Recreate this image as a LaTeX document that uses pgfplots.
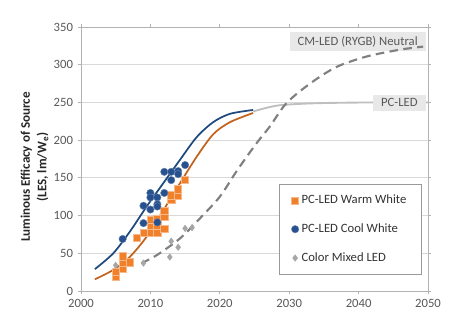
\documentclass[border=0pt]{standalone}
\usepackage{pgfplots}
\pgfplotsset{compat=1.18}
\usepackage{fontspec}
\setmainfont{Carlito}
\definecolor{ww}{HTML}{F0802A}
\definecolor{cw}{HTML}{26508E}
\definecolor{cm}{HTML}{A6A6A6}
\definecolor{wwline}{HTML}{C2621C}
\definecolor{cwline}{HTML}{1F4A80}
\definecolor{txt}{HTML}{595959}
\definecolor{boxfill}{HTML}{E8E8E8}
\begin{document}
\begin{tikzpicture}
\begin{axis}[
  set layers,
  at={(0,0)}, anchor=south west,
  scale only axis, width=260.25pt, height=198pt,
  xmin=2000, xmax=2050, ymin=0, ymax=350,
  xtick={2000,2010,...,2050}, ytick={0,50,...,350},
  /pgf/number format/1000 sep={},
  /pgf/number format/assume math mode=true,
  ymajorgrids, grid style={draw=black!15, line width=0.7pt},
  axis line style={draw=black!30, line width=0.7pt},
  tick align=outside, major tick length=2.5pt,
  tick style={draw=black!30, line width=0.6pt},
  ticklabel style={font=\fontsize{9.5}{11}\selectfont, text=txt},
  ylabel={Luminous Efficacy of Source\\(LES, lm/W\textsubscript{e})},
  ylabel style={align=center, xshift=-6pt, yshift=-3pt, font=\bfseries\fontsize{9.8}{12.5}\selectfont, text=black!85},
  legend style={at={(rel axis cs:0.571,0.405)}, anchor=north west,
    draw=black!40, fill=white, font=\fontsize{9.5}{11}\selectfont, text=black!80,
    row sep=9.5pt, inner xsep=9pt, inner ysep=6pt},
  legend cell align=left,
]
\begin{pgfonlayer}{pre main}
\node[fill=boxfill, text=txt, inner xsep=6pt, inner ysep=3pt, font=\fontsize{9.5}{11}\selectfont, anchor=east] at (axis cs:2049.7,331) {CM-LED (RYGB) Neutral};
\end{pgfonlayer}
% fitted curves
\addplot[forget plot, cwline, line width=1.3pt, smooth] coordinates {
(2002,29) (2004.65,50) (2007.06,79) (2009.46,112) (2011.86,143) (2014.27,174) (2016.67,204) (2019.07,224) (2021.5,235) (2024.8,240)};
\addplot[forget plot, wwline, line width=1.3pt, smooth] coordinates {
(2002,15.5) (2004.65,28) (2007.06,45.5) (2009.46,72) (2011.86,107) (2014.27,143) (2016.67,178) (2019.07,208) (2021.5,224) (2024.8,236)};
\addplot[forget plot, black!25, line width=1.4pt, smooth] coordinates {
(2024.8,238) (2027,243.5) (2029.1,246.7) (2034,249) (2042,250) (2050,250)};
\addplot[forget plot, black!50, line width=1.6pt, dash pattern=on 6.5pt off 4pt, smooth] coordinates {
(2008.7,36.7) (2011,48) (2014.3,70) (2017,95) (2020,125) (2022.5,160) (2025.3,196) (2027.2,218) (2029.6,249) (2033,275) (2036.8,297) (2041.2,311) (2046,320) (2049.3,324)};
\node[fill=boxfill, text=txt, inner xsep=6pt, inner ysep=3pt, font=\fontsize{9.5}{11}\selectfont, anchor=east] at (axis cs:2049.7,249.5) {PC-LED};
% data
\addplot[only marks, mark=square*, mark size=2.7pt, mark options={fill=ww, draw=ww!55!white, line width=0.4pt}] coordinates {
(2005,19.4) (2005,25) (2006,29.6) (2006,38) (2006,46) (2007,38) (2008,70.7) (2009,77) (2010,77) (2010,86) (2010,94) (2011,77) (2011,86) (2011,96) (2012,82) (2012,98) (2012,106) (2013,121) (2013,127) (2014,127) (2014,135) (2015,148)};
\addlegendentry{PC-LED Warm White}
\addplot[only marks, mark=*, mark size=2.8pt, mark options={fill=cw, draw=cw!70!white, line width=0.3pt}] coordinates {
(2006,69) (2009,113) (2009,90) (2010,130) (2010,124) (2010,108) (2011,124) (2011,115) (2011,112) (2011,91) (2012,158) (2012,130) (2013,158) (2013,147) (2014,159) (2014,155) (2015,167)};
\addlegendentry{PC-LED Cool White}
\addplot[only marks, mark=diamond*, mark size=2.4pt, mark options={fill=cm, draw=cm}] coordinates {
(2005,34) (2009,37) (2013,66) (2012.8,45) (2014,58) (2015,83) (2016,84)};
\addlegendentry{Color Mixed LED}
\end{axis}
\useasboundingbox (-60.75pt,-31.5pt) rectangle (288.75pt,218.25pt);
\end{tikzpicture}
\end{document}
